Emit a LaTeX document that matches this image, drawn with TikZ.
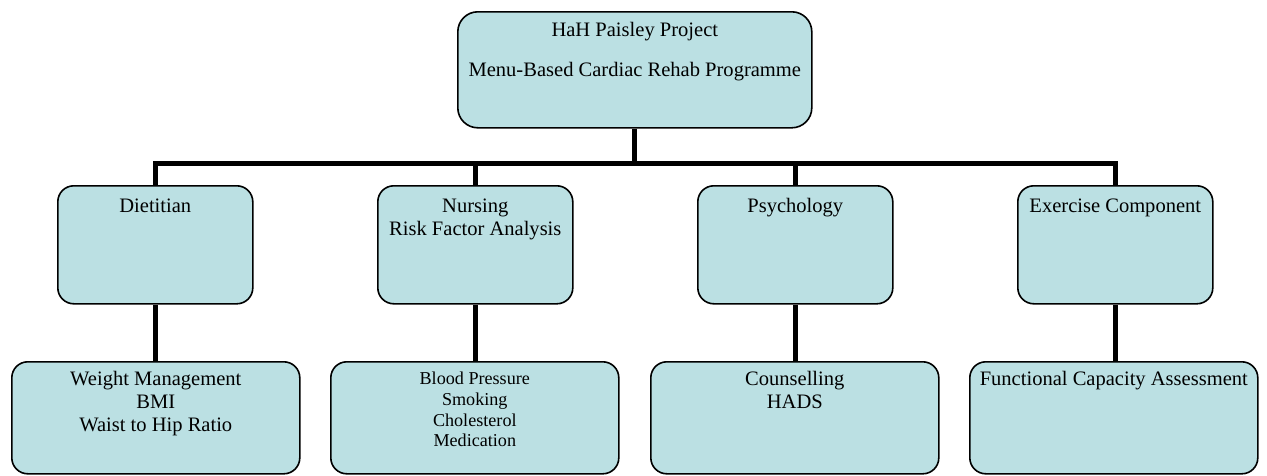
\documentclass[tikz,border=0pt]{standalone}
\usepackage{fontspec}
\setmainfont{Liberation Serif}
\definecolor{boxfill}{RGB}{187,224,227}
\newcommand\boxtext[4]{\begin{minipage}[t][#2][t]{#1}\centering\rule{0pt}{#3}#4\end{minipage}}
\begin{document}
\begin{tikzpicture}[x=0.75pt,y=-0.75pt,
  box/.style={draw=black, line width=1.2pt, fill=boxfill, rounded corners=12pt,
    inner sep=0pt, anchor=north west, font=\fontsize{15.4}{17.25}\selectfont},
  smallbox/.style={box, font=\fontsize{13.6}{15.5}\selectfont},
  conn/.style={line width=3.75pt}]
\useasboundingbox (0,0) rectangle (1267,475);

\node[box, rounded corners=15pt] (top) at (457,11)
  {\boxtext{265.5pt}{87pt}{18.75pt}{HaH Paisley Project\\[12.75pt]Menu-Based Cardiac Rehab Programme}};

\node[box] (d1) at (57,185)  {\boxtext{146.25pt}{88.5pt}{20.25pt}{Dietitian}};
\node[box] (d2) at (377,185) {\boxtext{146.25pt}{88.5pt}{20.25pt}{Nursing\\Risk Factor Analysis}};
\node[box] (d3) at (697,185) {\boxtext{146.25pt}{88.5pt}{20.25pt}{Psychology}};
\node[box] (d4) at (1017,185){\boxtext{146.25pt}{88.5pt}{20.25pt}{Exercise Component}};

\node[box] (b1) at (11,361)  {\boxtext{216pt}{84pt}{18pt}{Weight Management\\BMI\\Waist to Hip Ratio}};
\node[smallbox] (b2) at (330,361) {\boxtext{216pt}{84pt}{17.25pt}{Blood Pressure\\Smoking\\Cholesterol\\Medication}};
\node[box] (b3) at (650,361) {\boxtext{216pt}{84pt}{18pt}{Counselling\\HADS}};
\node[box] (b4) at (969,361) {\boxtext{216pt}{84pt}{18pt}{Functional Capacity Assessment}};

\coordinate (bar) at (634,163);
\draw[conn] (top.south) -- (top.south |- bar);
\draw[conn] (d1.north) -- (d1.north |- bar) -- (d4.north |- bar) -- (d4.north);
\draw[conn] (d2.north) -- (d2.north |- bar);
\draw[conn] (d3.north) -- (d3.north |- bar);
\draw[conn] (d1.south) -- (d1.south |- b1.north);
\draw[conn] (d2.south) -- (d2.south |- b2.north);
\draw[conn] (d3.south) -- (d3.south |- b3.north);
\draw[conn] (d4.south) -- (d4.south |- b4.north);
\end{tikzpicture}
\end{document}
